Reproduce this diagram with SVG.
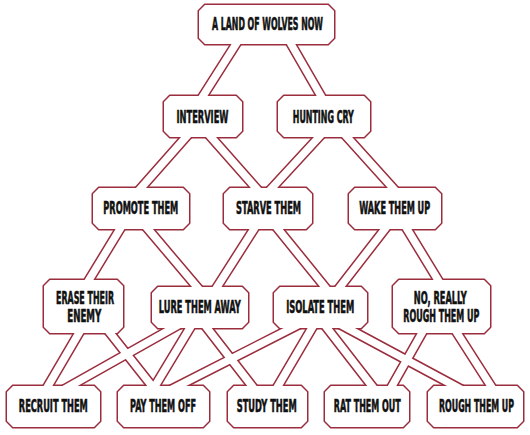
<svg xmlns="http://www.w3.org/2000/svg" xmlns:xlink="http://www.w3.org/1999/xlink" width="530" height="435" viewBox="0 0 530 435">
<style>
.rib-out{fill:none;stroke:#9b2d3d;stroke-width:10.5;stroke-linecap:butt}
.rib-in{fill:none;stroke:#ffffff;stroke-width:7.5;stroke-linecap:butt}
.node-out{fill:#ffffff;stroke:#9b2d3d;stroke-width:3;stroke-linejoin:miter}
.node-in{fill:#ffffff;stroke:none}
text{font-family:"Liberation Sans Narrow","DejaVu Sans Condensed","Liberation Sans",sans-serif;font-weight:bold;font-size:17px;fill:#111111;stroke:#111111;stroke-width:0.6;text-anchor:middle}
</style>
<defs>
<path id="ribbons" d="M241.1,36L197.9,104 M286.4,36L325.6,104 M193.1,129L133.9,196 M203.9,129L263.1,196 M326.4,129L264.6,196 M339.8,129L400.2,196 M124.9,221L84.1,288 M141.2,221L203.8,295 M259.1,221L211.9,295 M271.5,221L331.5,295 M391.2,221L333.8,295 M402.1,221L442.9,288 M83.7,325L43.3,394 M103.7,325L158.3,394 M187.2,320L55.8,394 M194.8,320L150.2,394 M200.8,320L258.2,394 M307.7,320L162.3,394 M316.7,320L273.3,394 M320.8,320L378.2,394 M332.1,320L469.9,394 M426.5,325L387.5,394 M451.9,325L496.1,394"/>
<path id="s-top" d="M205,5H328L334,11V38L328,44H205L199,38V11Z"/>
<path id="s-interview" d="M170,96H236L242,102V131L236,137H170L164,131V102Z"/>
<path id="s-hunting" d="M284,96H364L370,102V131L364,137H284L278,131V102Z"/>
<path id="s-promote" d="M99,188H183L189,194V223L183,229H99L93,223V194Z"/>
<path id="s-starve" d="M230,188H306L312,194V223L306,229H230L224,223V194Z"/>
<path id="s-wake" d="M355,188H435L441,194V223L435,229H355L349,223V194Z"/>
<path id="s-erase" d="M50,280H117L123,286V327L117,333H50L44,327V286Z"/>
<path id="s-lure" d="M158,287H242L248,293V322L242,328H158L152,322V293Z"/>
<path id="s-isolate" d="M280,287H361L367,293V322L361,328H280L274,322V293Z"/>
<path id="s-no" d="M399,280H484L490,286V327L484,333H399L393,327V286Z"/>
<path id="s-recruit" d="M13,386H94L100,392V421L94,427H13L7,421V392Z"/>
<path id="s-pay" d="M124,386H203L209,392V421L203,427H124L118,421V392Z"/>
<path id="s-study" d="M234,386H301L307,392V421L301,427H234L228,421V392Z"/>
<path id="s-rat" d="M331,386H403L409,392V421L403,427H331L325,421V392Z"/>
<path id="s-rough" d="M434,386H517L523,392V421L517,427H434L428,421V392Z"/>
</defs>
<rect width="530" height="435" fill="#ffffff"/>
<g id="connectors">
<use href="#ribbons" class="rib-out"/>
</g>
<g id="node-borders">
<use href="#s-top" class="node-out"/>
<use href="#s-interview" class="node-out"/>
<use href="#s-hunting" class="node-out"/>
<use href="#s-promote" class="node-out"/>
<use href="#s-starve" class="node-out"/>
<use href="#s-wake" class="node-out"/>
<use href="#s-erase" class="node-out"/>
<use href="#s-lure" class="node-out"/>
<use href="#s-isolate" class="node-out"/>
<use href="#s-no" class="node-out"/>
<use href="#s-recruit" class="node-out"/>
<use href="#s-pay" class="node-out"/>
<use href="#s-study" class="node-out"/>
<use href="#s-rat" class="node-out"/>
<use href="#s-rough" class="node-out"/>
</g>
<g id="connectors-inner">
<use href="#ribbons" class="rib-in"/>
</g>
<g id="nodes">
<g id="node-top"><use href="#s-top" class="node-in"/><text transform="translate(267.5,30.2) scale(0.64,1)" textLength="173.4" lengthAdjust="spacingAndGlyphs">A LAND OF WOLVES NOW</text></g>
<g id="node-interview"><use href="#s-interview" class="node-in"/><text transform="translate(202.5,123.2) scale(0.64,1)" textLength="81.3" lengthAdjust="spacingAndGlyphs">INTERVIEW</text></g>
<g id="node-hunting-cry"><use href="#s-hunting" class="node-in"/><text transform="translate(323.3,123.2) scale(0.64,1)" textLength="95.3" lengthAdjust="spacingAndGlyphs">HUNTING CRY</text></g>
<g id="node-promote-them"><use href="#s-promote" class="node-in"/><text transform="translate(140.8,214.2) scale(0.64,1)" textLength="117.2" lengthAdjust="spacingAndGlyphs">PROMOTE THEM</text></g>
<g id="node-starve-them"><use href="#s-starve" class="node-in"/><text transform="translate(268.5,214.2) scale(0.64,1)" textLength="101.6" lengthAdjust="spacingAndGlyphs">STARVE THEM</text></g>
<g id="node-wake-them-up"><use href="#s-wake" class="node-in"/><text transform="translate(394.7,214.2) scale(0.64,1)" textLength="110.9" lengthAdjust="spacingAndGlyphs">WAKE THEM UP</text></g>
<g id="node-erase-their-enemy"><use href="#s-erase" class="node-in"/><text transform="translate(85,303.6) scale(0.64,1)" textLength="90.6" lengthAdjust="spacingAndGlyphs">ERASE THEIR</text><text transform="translate(84.2,322.4) scale(0.64,1)" textLength="53.1" lengthAdjust="spacingAndGlyphs">ENEMY</text></g>
<g id="node-lure-them-away"><use href="#s-lure" class="node-in"/><text transform="translate(199.8,313.4) scale(0.64,1)" textLength="128.1" lengthAdjust="spacingAndGlyphs">LURE THEM AWAY</text></g>
<g id="node-isolate-them"><use href="#s-isolate" class="node-in"/><text transform="translate(320.2,313.4) scale(0.64,1)" textLength="106.3" lengthAdjust="spacingAndGlyphs">ISOLATE THEM</text></g>
<g id="node-no-really"><use href="#s-no" class="node-in"/><text transform="translate(440.3,303.6) scale(0.64,1)" textLength="82.8" lengthAdjust="spacingAndGlyphs">NO, REALLY</text><text transform="translate(441.3,322.4) scale(0.6,1)" textLength="126.7" lengthAdjust="spacingAndGlyphs">ROUGH THEM UP</text></g>
<g id="node-recruit-them"><use href="#s-recruit" class="node-in"/><text transform="translate(53.3,412.4) scale(0.64,1)" textLength="107.8" lengthAdjust="spacingAndGlyphs">RECRUIT THEM</text></g>
<g id="node-pay-them-off"><use href="#s-pay" class="node-in"/><text transform="translate(163,412.4) scale(0.64,1)" textLength="103.1" lengthAdjust="spacingAndGlyphs">PAY THEM OFF</text></g>
<g id="node-study-them"><use href="#s-study" class="node-in"/><text transform="translate(266.7,412.4) scale(0.64,1)" textLength="93.8" lengthAdjust="spacingAndGlyphs">STUDY THEM</text></g>
<g id="node-rat-them-out"><use href="#s-rat" class="node-in"/><text transform="translate(367.3,412.4) scale(0.64,1)" textLength="104.7" lengthAdjust="spacingAndGlyphs">RAT THEM OUT</text></g>
<g id="node-rough-them-up"><use href="#s-rough" class="node-in"/><text transform="translate(476.5,412.4) scale(0.58,1)" textLength="129.3" lengthAdjust="spacingAndGlyphs">ROUGH THEM UP</text></g>
</g>
</svg>
